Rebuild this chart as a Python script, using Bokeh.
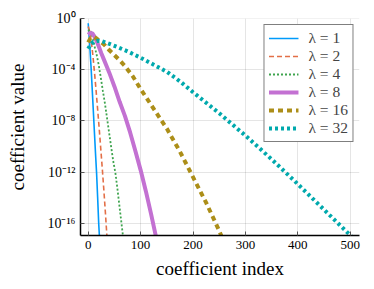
from bokeh.plotting import figure
from bokeh.models import FixedTicker, Range1d
from bokeh.embed import file_html
from bokeh.resources import INLINE

# ---- data (y values given as log10 of the coefficient) ----
series_labels = ["λ = 1", "λ = 2", "λ = 4", "λ = 8", "λ = 16", "λ = 32"]

idx_lam1 = [0, 2, 4, 6, 8, 10, 12, 14, 16, 18, 20, 22]
log_lam1 = [-0.35, -1.5, -2.8, -4.2, -5.8, -7.4, -9.0, -10.6, -12.1, -14.0, -16.0, -17.5]

idx_lam2 = [0, 3, 6, 9, 12, 15, 18, 21, 24, 27, 30, 33, 36]
log_lam2 = [-0.6, -1.0, -1.8, -2.9, -4.2, -5.6, -7.1, -8.6, -10.2, -11.8, -13.5, -15.3, -17.2]

idx_lam4 = [0, 2, 4, 6, 8, 10, 12, 16, 20, 24, 28, 32, 36, 40, 44, 48, 52, 56, 60, 64, 68]
log_lam4 = [-1.0, -0.87, -0.9, -1.1, -1.4, -1.65, -2.15, -2.8, -3.6, -4.6, -5.65, -6.65, -7.8,
            -8.95, -10.1, -11.2, -12.1, -13.4, -14.8, -16.2, -17.6]

idx_lam8 = [0, 4, 8, 12, 16, 20, 25, 30, 35, 40, 45, 50, 60, 70, 80, 90, 100, 110, 120, 130]
log_lam8 = [-1.25, -1.1, -1.15, -1.4, -1.75, -2.15, -2.7, -3.2, -3.7, -4.2, -4.75, -5.3,
            -6.5, -7.6, -8.9, -10.35, -11.85, -13.5, -15.3, -17.2]

idx_lam16 = [0, 4, 8, 12, 16, 20, 30, 40, 50, 60, 70, 85, 100, 125, 150, 175, 200, 225, 250, 256]
log_lam16 = [-1.85, -1.55, -1.45, -1.45, -1.55, -1.7, -2.0, -2.45, -2.85, -3.25, -3.7, -4.5,
             -5.5, -7.05, -8.6, -10.4, -12.4, -14.4, -16.6, -17.2]

idx_lam32 = [0, 5, 10, 18, 25, 35, 50, 75, 100, 125, 150, 175, 200, 250, 300, 350, 400, 450, 500, 505]
log_lam32 = [-2.35, -2.0, -1.8, -1.72, -1.75, -1.88, -2.12, -2.55, -3.05, -3.6, -4.15, -4.9,
             -5.75, -7.4, -9.15, -11.0, -12.95, -14.95, -16.95, -17.2]

x_ticks = [0, 100, 200, 300, 400, 500]
y_ticks = [1e-16, 1e-12, 1e-8, 1e-4, 1.0]
y_tick_labels = ["10⁻¹⁶", "10⁻¹²", "10⁻⁸", "10⁻⁴", "10⁰"]

# ---- styles ----
colors = ["#009AFA", "#E36F47", "#3EA44E", "#C371D2", "#AC8E18", "#00A9AD"]
widths = [1.6, 1.6, 1.8, 4, 4, 4]
dashes = ["solid", "5 3", "2 2", "solid", "5 4", "3 3"]

FONT = "Liberation Serif"

p = figure(width=366, height=281, output_backend="svg", toolbar_location=None,
           y_axis_type="log",
           x_range=Range1d(-14.7, 517.6),
           y_range=Range1d(10 ** -16.97, 10 ** 0.02),
           min_border_left=80, min_border_right=7, min_border_top=18, min_border_bottom=45)

xs = [idx_lam1, idx_lam2, idx_lam4, idx_lam8, idx_lam16, idx_lam32]
ys = [log_lam1, log_lam2, log_lam4, log_lam8, log_lam16, log_lam32]
for x, ylog, lab, c, w, d in zip(xs, ys, series_labels, colors, widths, dashes):
    p.line(x, [10 ** v for v in ylog], line_color=c, line_width=w, line_dash=d,
           line_cap="butt", legend_label=lab)

p.outline_line_color = None
p.background_fill_color = "white"
p.border_fill_color = "white"

p.xaxis.ticker = FixedTicker(ticks=x_ticks)
p.yaxis.ticker = FixedTicker(ticks=y_ticks)
p.yaxis.major_label_overrides = {t: s for t, s in zip(y_ticks, y_tick_labels)}
p.xgrid.ticker = FixedTicker(ticks=x_ticks)
p.ygrid.ticker = FixedTicker(ticks=y_ticks)
p.grid.grid_line_color = "black"
p.grid.grid_line_alpha = 0.1
p.grid.grid_line_width = 1

for ax in (p.xaxis, p.yaxis):
    ax.axis_line_color = "black"
    ax.axis_line_width = 1.5
    ax.major_tick_in = 4
    ax.major_tick_out = 0
    ax.major_tick_line_color = "#555555"
    ax.minor_tick_line_color = None
    ax.major_label_text_font = FONT
    ax.major_label_text_color = "black"
    ax.axis_label_text_font = FONT
    ax.axis_label_text_font_size = "19px"
    ax.axis_label_text_font_style = "normal"
    ax.axis_label_text_color = "black"
    ax.major_label_standoff = 5

p.xaxis.major_label_text_font_size = "13px"
p.yaxis.major_label_text_font_size = "14px"
p.xaxis.axis_label = "coefficient index"
p.yaxis.axis_label = "coefficient value"
p.xaxis.axis_label_standoff = 6
p.yaxis.axis_label_standoff = 16

lg = p.legend[0]
lg.location = "top_right"
lg.margin = 6
lg.padding = 4
lg.spacing = 0
lg.label_height = 18
lg.glyph_height = 18
lg.glyph_width = 30
lg.label_standoff = 10
lg.label_text_font = FONT
lg.label_text_font_size = "15.5px"
lg.border_line_color = "black"
lg.border_line_width = 1.5
lg.background_fill_alpha = 1.0

open("out.html", "w").write(file_html(p, INLINE))
